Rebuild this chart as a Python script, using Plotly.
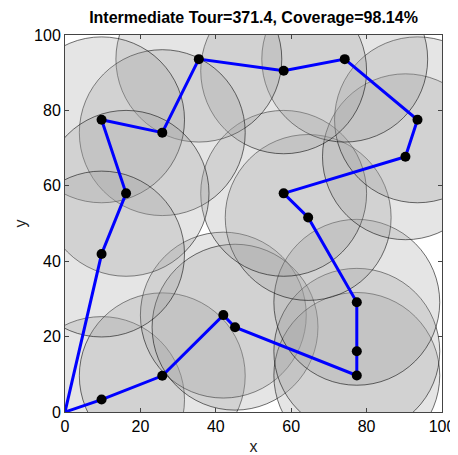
import plotly.graph_objects as go

# Tour order (depot first and last)
tour_x = [0, 9.7, 25.8, 42.0, 45.1, 77.4, 77.4, 77.4, 64.5, 58.0, 90.3, 93.5, 74.2, 58.0, 35.5, 25.8, 9.7, 16.2, 9.7, 0]
tour_y = [0, 3.3, 9.6, 25.7, 22.5, 9.7, 16.1, 29.1, 51.6, 58.0, 67.7, 77.5, 93.6, 90.5, 93.6, 74.1, 77.5, 58.0, 41.9, 0]

# Visited nodes (each with a coverage circle)
node_x = tour_x[1:-1]
node_y = tour_y[1:-1]
coverage_radius = 22.0

title_text = "Intermediate Tour=371.4, Coverage=98.14%"
tick_vals = [0, 20, 40, 60, 80, 100]

FONT = "Liberation Sans, Arial, sans-serif"

# page body has an 8px margin, so the figure is sized to fit the window
W, H = 450, 447
ML, MR, MT, MB = 57, 16, 27, 43

fig = go.Figure()

shapes = []
for cx, cy in zip(node_x, node_y):
    shapes.append(dict(
        type="circle", xref="x", yref="y",
        x0=cx - coverage_radius, x1=cx + coverage_radius,
        y0=cy - coverage_radius, y1=cy + coverage_radius,
        fillcolor="rgba(160,160,160,0.28)",
        line=dict(color="rgba(0,0,0,0.8)", width=0.7),
        layer="below",
    ))

fig.add_trace(go.Scatter(
    x=tour_x, y=tour_y, mode="lines",
    line=dict(color="#0000ff", width=3),
    hoverinfo="skip", showlegend=False,
))
fig.add_trace(go.Scatter(
    x=node_x, y=node_y, mode="markers",
    marker=dict(color="black", size=10),
    showlegend=False,
))

axis_common = dict(
    range=[0, 100], tickvals=tick_vals,
    showgrid=False, zeroline=False, automargin=False,
    showline=True, linecolor="#444444", linewidth=1,
    mirror="ticks", ticks="inside", ticklen=4, tickcolor="#444444",
    tickfont=dict(family=FONT, size=16, color="black"),
)

fig.update_layout(
    width=W, height=H,
    margin=dict(l=ML, r=MR, t=MT, b=MB, autoexpand=False),
    plot_bgcolor="white", paper_bgcolor="white",
    shapes=shapes,
    title=dict(
        text="<b>" + title_text + "</b>",
        x=(ML + (W - MR)) / 2 / W, xanchor="center",
        y=1 - 9 / H, yanchor="middle",
        font=dict(family=FONT, size=16, color="black"),
        automargin=False,
    ),
    xaxis=dict(title=dict(text="x", font=dict(family=FONT, size=16, color="#222"), standoff=6), **axis_common),
    yaxis=dict(title=dict(text="y", font=dict(family=FONT, size=16, color="#222"), standoff=3), **axis_common),
)

fig.write_html("out.html")
